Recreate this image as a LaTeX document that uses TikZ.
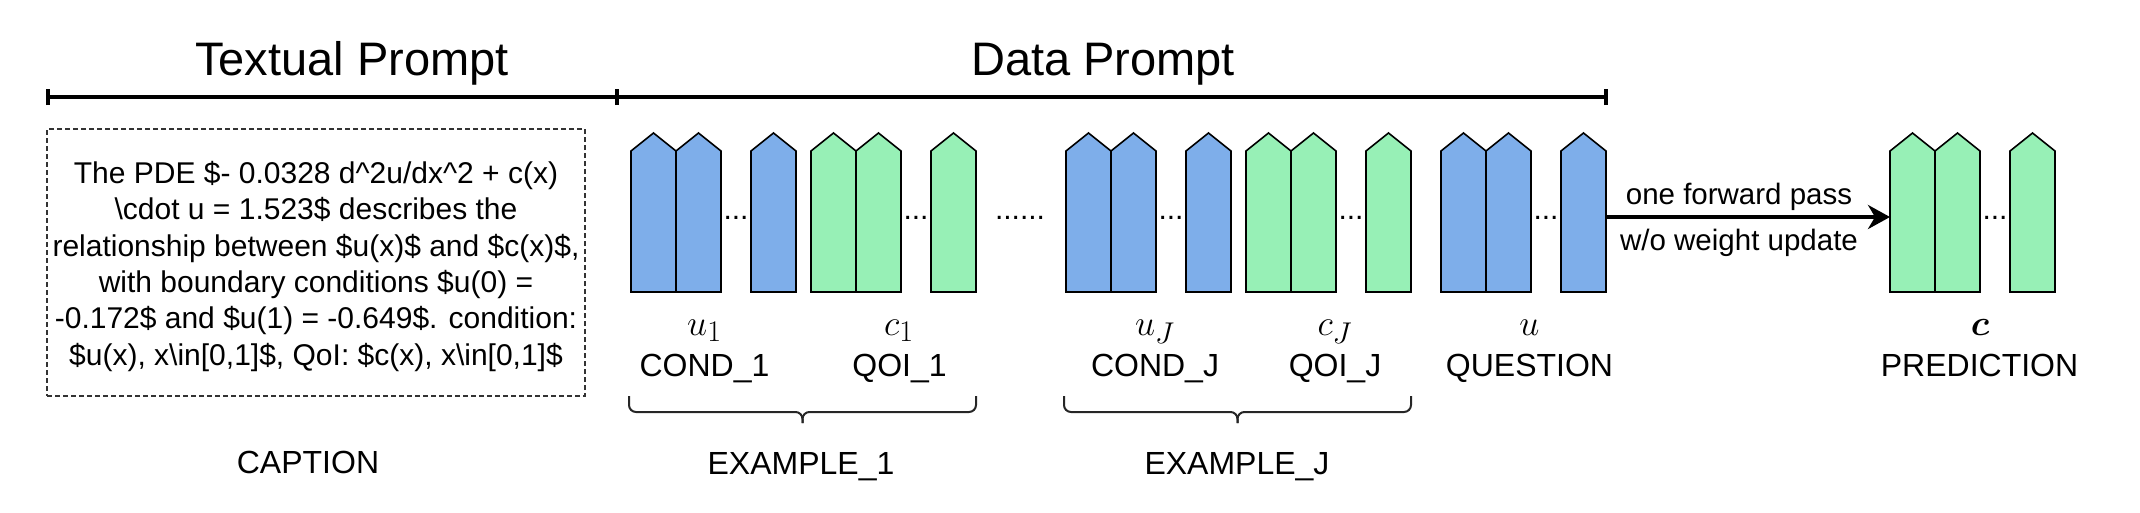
\documentclass[tikz,border=0pt]{standalone}
\usepackage{amsmath}
\usepackage[no-math]{fontspec}
\setmainfont{Liberation Sans}
\usetikzlibrary{arrows.meta}
\definecolor{tokblue}{HTML}{7EAEEA}
\definecolor{tokgreen}{HTML}{97F0B6}
\newcommand{\bigmath}[1]{\scalebox{1.447}{$#1$}}
\tikzset{
  tokpath/.style={draw=black, line width=1.6pt, line join=miter},
  lbl/.style={anchor=base, inner sep=0pt, font=\fontsize{32}{38}\selectfont},
  mlbl/.style={anchor=base, inner sep=0pt, font=\fontsize{24.88}{28}\selectfont},
  title/.style={anchor=base, inner sep=0pt, font=\fontsize{47}{52}\selectfont},
  arrlbl/.style={anchor=base, inner sep=0pt, font=\fontsize{29.5}{34}\selectfont},
  dotsty/.style={anchor=base, inner sep=0pt, font=\fontsize{30}{34}\selectfont},
  boxtext/.style={align=center, inner sep=0pt, font=\fontsize{30}{36.3}\selectfont},
  dashbox/.style={draw=black!80, line width=1.3pt, dash pattern=on 5pt off 3pt, minimum width=538pt, minimum height=267pt, inner sep=0pt},
  timeline/.style={line width=3.6pt, black},
  bracesty/.style={line width=2pt, black!85, rounded corners=7pt},
  fwd/.style={line width=3.6pt, -{Stealth[length=22pt,width=24pt,inset=7pt]}}
}
% one token: #1 left x, #2 colour, #3 name
\newcommand{\tokpent}[3]{%
  \draw[tokpath, fill=#2] (#1,292) -- (#1,151) -- ({#1+22.5},133) -- ({#1+45},151) -- ({#1+45},292) -- cycle;
  \coordinate (#3-w) at (#1,217);
  \coordinate (#3-e) at ({#1+45},217);}
% a group of tokens: #1 left x, #2 colour, #3 name
\newcommand{\tokgroup}[3]{%
  \tokpent{#1}{#2}{#3a}
  \tokpent{#1+45}{#2}{#3b}
  \tokpent{#1+120}{#2}{#3c}
  \node[dotsty] (#3dots) at ({#1+105},219.5) {...};}
\begin{document}
\begin{tikzpicture}[x=1pt,y=-1pt]
\useasboundingbox (0,0) rectangle (2140,512);

% titles and timeline
\node[title] (ttext) at (352,75) {Textual Prompt};
\node[title] (tdata) at (1103,75) {Data Prompt};
\coordinate (tl0) at (48,97);
\coordinate (tl1) at (617,97);
\coordinate (tl2) at (1606,97);
\draw[timeline] (tl0) -- (tl2);
\foreach \p in {tl0,tl1,tl2}{\draw[timeline] ([yshift=-8pt]\p) -- ([yshift=8pt]\p);}

% caption box
\node[dashbox] (capbox) at (316,262.5) {};
\node[boxtext] (captext) at (316,266.4) {The PDE \$- 0.0328 d\textasciicircum 2u/dx\textasciicircum 2 + c(x)\\
\textbackslash cdot u = 1.523\$ describes the\\
relationship between \$u(x)\$ and \$c(x)\$,\\
with boundary conditions \$u(0) =\\
-0.172\$ and \$u(1) = -0.649\$. condition:\\
\$u(x), x\textbackslash in[0,1]\$, QoI: \$c(x), x\textbackslash in[0,1]\$};
\node[lbl] (caplbl) at (308,473) {CAPTION};

% token groups
\tokgroup{631}{tokblue}{ga}
\tokgroup{811}{tokgreen}{gb}
\node[dotsty] (midots) at (1020,219.5) {......};
\tokgroup{1066}{tokblue}{gc}
\tokgroup{1246}{tokgreen}{gd}
\tokgroup{1441}{tokblue}{ge}
\tokgroup{1890}{tokgreen}{gf}

% labels
\node[mlbl] (mu1) at (704.5,335) {\bigmath{u_1}};
\node[lbl] (cond1) at (704.5,376) {COND\_1};
\node[mlbl] (mc1) at (899,335) {\bigmath{c_1}};
\node[lbl] (qoi1) at (899.5,376) {QOI\_1};
\node[mlbl] (muj) at (1155,335) {\bigmath{u_J}};
\node[lbl] (condj) at (1155,376) {COND\_J};
\node[mlbl] (mcj) at (1335,335) {\bigmath{c_J}};
\node[lbl] (qoij) at (1335,376) {QOI\_J};
\node[mlbl] (mu) at (1529.5,335) {\bigmath{u}};
\node[lbl] (quest) at (1529.5,376) {QUESTION};
\node[mlbl] (mc) at (1980,335) {\bigmath{\boldsymbol{c}}};
\node[lbl] (pred) at (1979.5,376) {PREDICTION};

% braces
\draw[bracesty] (629,396) |- (802.5,412) -- (802.5,423);
\draw[bracesty] (976,396) |- (802.5,412) -- (802.5,423);
\draw[bracesty] (1064,396) |- (1237.5,412) -- (1237.5,423);
\draw[bracesty] (1411,396) |- (1237.5,412) -- (1237.5,423);
\node[lbl] (ex1) at (801,474) {EXAMPLE\_1};
\node[lbl] (exj) at (1237,474) {EXAMPLE\_J};

% forward pass arrow
\draw[fwd] (gec-e) -- (gfa-w);
\node[arrlbl] (fp1) at (1739,204) {one forward pass};
\node[arrlbl] (fp2) at (1739,250) {w/o weight update};
\end{tikzpicture}
\end{document}
